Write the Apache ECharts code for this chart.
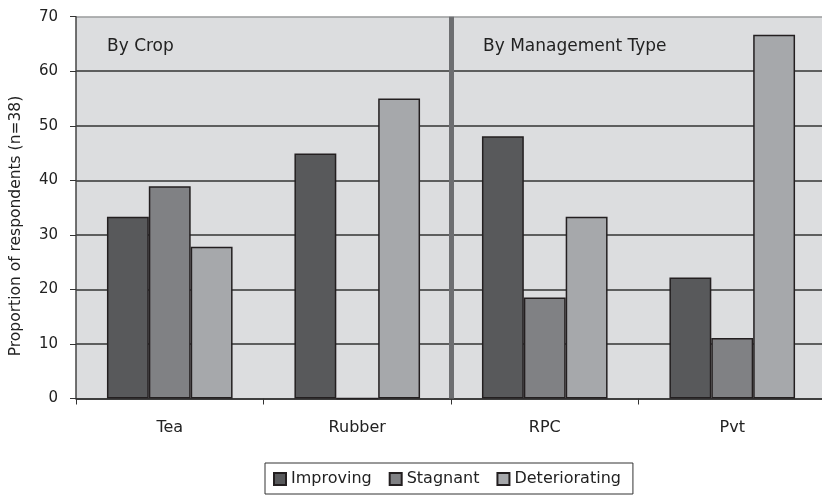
<!DOCTYPE html>
<html>
<head>
<meta charset="utf-8">
<script src="https://cdn.jsdelivr.net/npm/echarts@6/dist/echarts.min.js"></script>
<style>
  html, body { margin: 0; padding: 0; background: #fff; }
  #chart { width: 822px; height: 498px; }
</style>
</head>
<body>
<div id="chart"></div>
<script>
// Respondent perceptions of change, grouped by crop and by management type
const categories = ['Tea', 'Rubber', 'RPC', 'Pvt'];
const seriesNames = ['Improving', 'Stagnant', 'Deteriorating'];
const improving = [33.3, 44.9, 48.1, 22.2];
const stagnant = [38.9, 0, 18.5, 11.1];
const deteriorating = [27.8, 55.0, 33.3, 66.7];
const yTicks = { min: 0, max: 70, interval: 10 };
const panelTitles = ['By Crop', 'By Management Type'];
const yAxisTitle = 'Proportion of respondents (n=38)';

const FONT = 'DejaVu Sans';
const barColors = ['#58595b', '#808184', '#a6a8ab'];
const values = [improving, stagnant, deteriorating];

const chart = echarts.init(document.getElementById('chart'), null, { renderer: 'canvas' });

const bars = seriesNames.map((name, i) => ({
  name: name,
  type: 'bar',
  data: values[i],
  barGap: '0%',
  barCategoryGap: '33%',
  itemStyle: { color: barColors[i], borderColor: '#231f20', borderWidth: 1.5 },
  emphasis: { disabled: true },
  z: 3
}));

// Divider between the two panels, placed at the category boundary (position 2 of 4)
bars.push({
  type: 'line',
  xAxisIndex: 1,
  data: [],
  silent: true,
  markLine: {
    silent: true,
    symbol: 'none',
    label: { show: false },
    lineStyle: { color: '#6d6e71', width: 5, type: 'solid' },
    data: [{ xAxis: 2 }]
  },
  z: 4
});

const splitColors = [];
for (let v = yTicks.min; v <= yTicks.max; v += yTicks.interval) {
  splitColors.push(v === yTicks.max ? '#9b9c9e' : '#333333');
}

chart.setOption({
  animation: false,
  backgroundColor: '#ffffff',
  textStyle: { fontFamily: FONT },
  grid: {
    left: 76, right: -4, top: 16.7, bottom: 99.5,
    containLabel: false,
    outerBoundsMode: 'none',
    show: true, backgroundColor: '#dcdddf', borderWidth: 0
  },
  legend: {
    data: seriesNames,
    icon: 'rect',
    left: 265,
    top: 463,
    orient: 'horizontal',
    padding: [8, 12, 7, 8],
    itemWidth: 12,
    itemHeight: 12,
    itemGap: 17,
    borderColor: '#333333',
    borderWidth: 1,
    textStyle: { fontFamily: FONT, fontSize: 16, color: '#222222' },
    selectedMode: false
  },
  xAxis: [{
    type: 'category',
    data: categories,
    boundaryGap: true,
    axisLine: { lineStyle: { color: '#333333', width: 1.5 } },
    axisTick: { show: true, length: 6, lineStyle: { color: '#333333', width: 1 } },
    axisLabel: { fontFamily: FONT, fontSize: 16, color: '#222222', margin: 21 },
    splitLine: { show: false }
  }, {
    type: 'value',
    min: 0, max: categories.length,
    show: false
  }],
  yAxis: {
    type: 'value',
    min: yTicks.min, max: yTicks.max, interval: yTicks.interval,
    axisLine: { show: true, lineStyle: { color: '#444444', width: 1.5 } },
    axisTick: { show: true, length: 6, lineStyle: { color: '#333333', width: 1 } },
    axisLabel: { fontFamily: FONT, fontSize: 15, color: '#222222', margin: 18 },
    splitLine: { show: true, lineStyle: { color: splitColors, width: 1.5 } }
  },
  graphic: [
    { type: 'text', x: 15.5, y: 226, rotation: Math.PI / 2,
      style: { text: yAxisTitle, font: '15.5px "DejaVu Sans"', fill: '#222222', align: 'center', verticalAlign: 'middle' } },
    { type: 'text', left: 107, top: 38, style: { text: panelTitles[0], font: '17px "DejaVu Sans"', fill: '#222222' } },
    { type: 'text', left: 483, top: 38, style: { text: panelTitles[1], font: '17px "DejaVu Sans"', fill: '#222222' } }
  ],
  series: bars
});
</script>
</body>
</html>
